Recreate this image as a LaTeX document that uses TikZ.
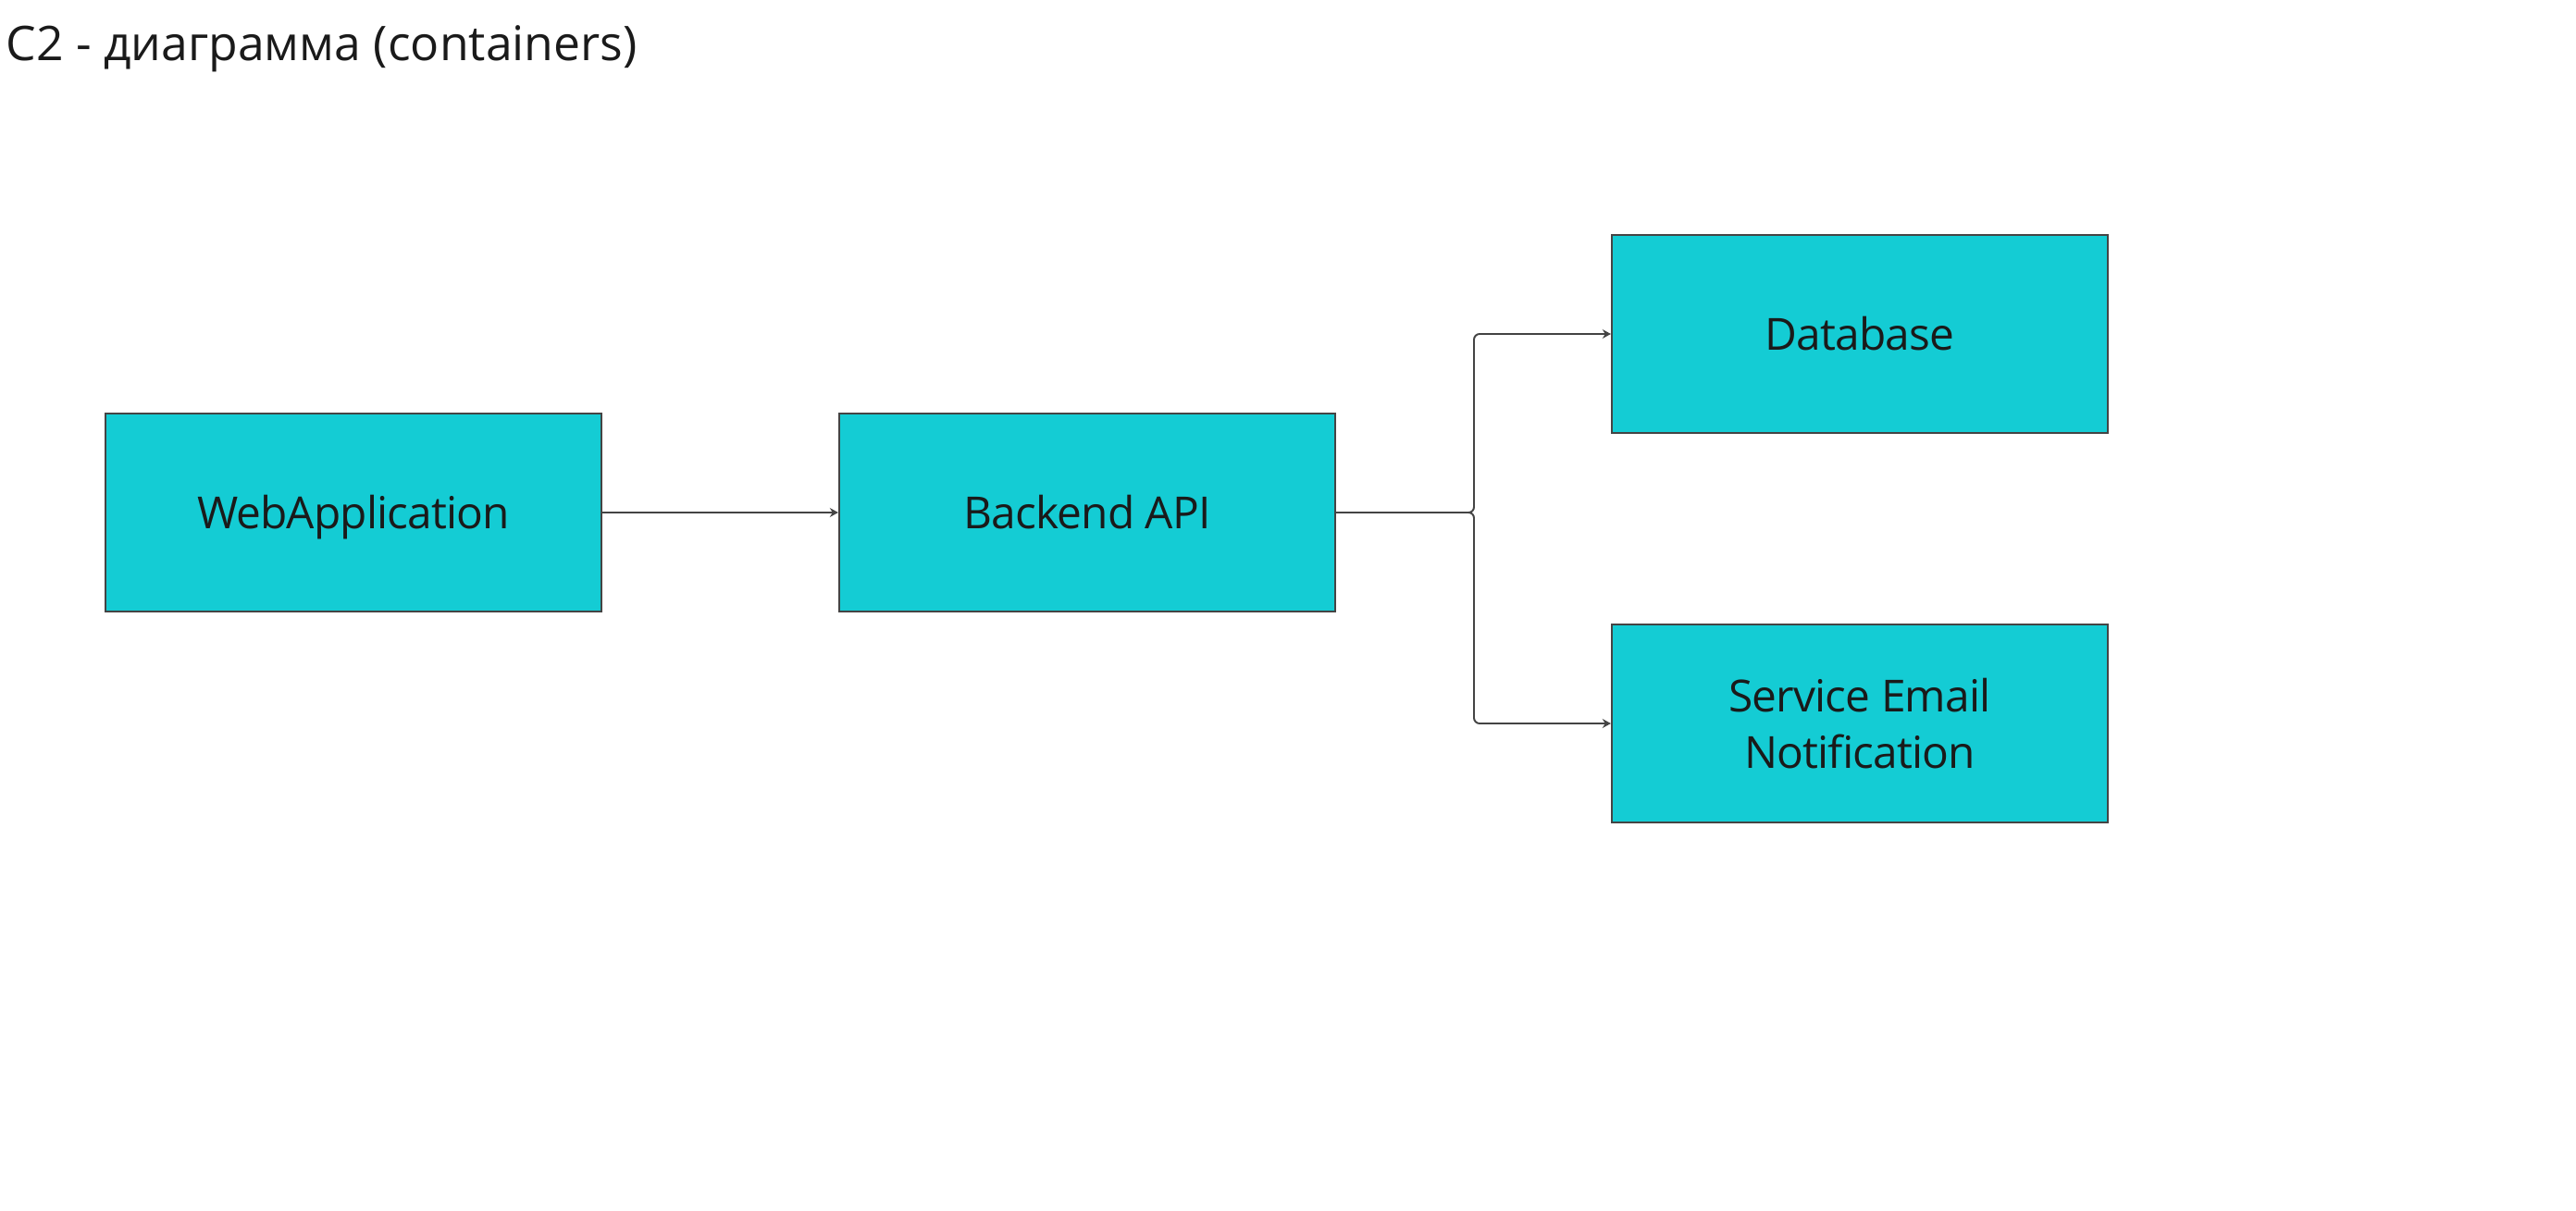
\documentclass[tikz,border=0pt]{standalone}
\usepackage{fontspec}
\setmainfont{Open Sans}
\usetikzlibrary{arrows.meta}
\definecolor{boxfill}{RGB}{20,204,212}
\definecolor{linegray}{RGB}{68,68,68}
\definecolor{textdark}{RGB}{26,26,26}
\begin{document}
\begin{tikzpicture}[y=-1cm,
    container/.style={draw=linegray,line width=0.6pt,fill=boxfill,minimum width=5.36cm,minimum height=2.14cm,
      align=center,text=textdark,font=\fontsize{13.6}{17.6}\selectfont\addfontfeatures{LetterSpace=-1.8}},
    oneline/.style={text height=9.7pt,text depth=0pt},
    link/.style={draw=linegray,line width=0.55pt,rounded corners=0.06cm,-{Stealth[length=2.6pt,width=2.8pt]}}]
    \useasboundingbox (0,0) rectangle (27.84,13.08);
    \node[anchor=base west,text=textdark,font=\fontsize{14.7}{18}\selectfont,inner sep=0pt] (title) at (0.06,0.66) {C2 - диаграмма (containers)};
    \node[container,oneline] (web) at (3.82,5.54) {WebApplication};
    \node[container,oneline] (api) at (11.75,5.54) {Backend API};
    \node[container,oneline] (db) at (20.10,3.61) {Database};
    \node[container] (mail) at (20.10,7.82) {Service Email\\Notification};
    \coordinate (fork) at (15.93,5.54);
    \draw[link] (web) -- (api);
    \draw[link] (api.east) -- (fork) |- (db.west);
    \draw[link] (api.east) -- (fork) |- (mail.west);
  \end{tikzpicture}
\end{document}
